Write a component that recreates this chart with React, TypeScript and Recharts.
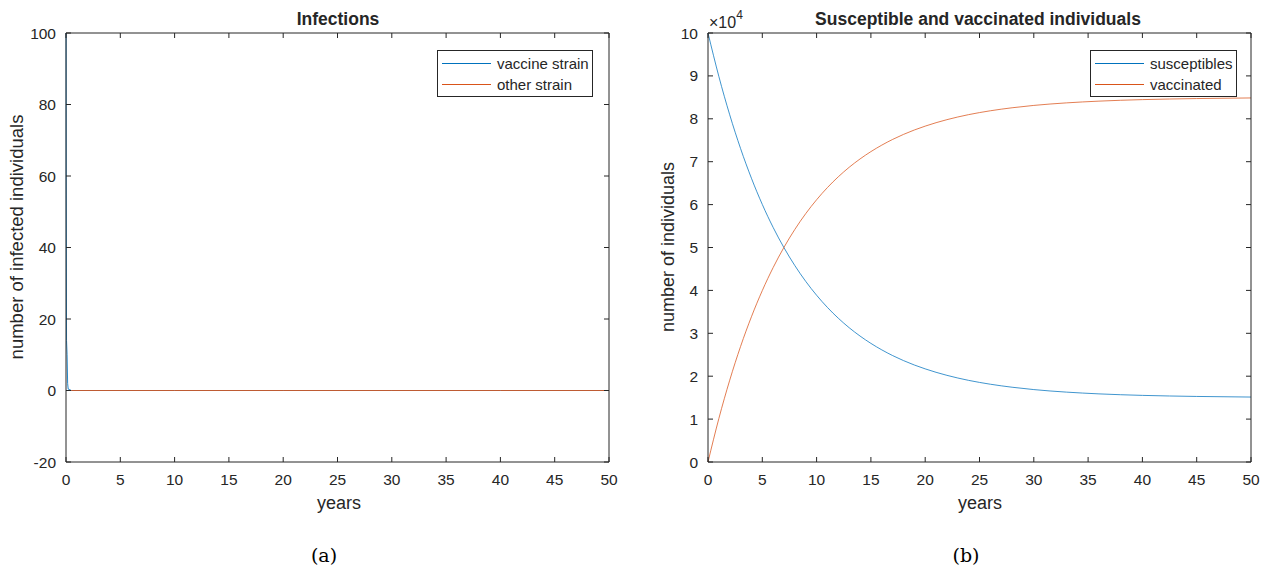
import React from 'react';
import { LineChart, Line, XAxis, YAxis } from 'recharts';

// infections panel (a)
const infYears = [0, 0.02, 0.05, 0.1, 0.15, 0.2, 0.5, 10, 20, 30, 40, 50];
const vaccineStrain = [150, 60, 14, 10, 2, 0.4, 0, 0, 0, 0, 0, 0];
const otherStrain = [0, 0, 0, 0, 0, 0, 0, 0, 0, 0, 0, 0];

// susceptible / vaccinated panel (b)
const popYears = [0, 1, 2, 3, 4, 5, 6, 7, 8, 9, 10, 11, 12, 13, 14, 15, 16, 17, 18, 19, 20, 22, 24, 26, 28, 30, 33, 36, 40, 45, 50];
const susceptibles = [
  100000, 89860, 80930, 73060, 66140, 60040, 54670, 49940, 45770, 42100, 38870, 36020, 33510, 31300, 29360,
  27650, 26140, 24810, 23640, 22610, 21710, 20200, 19030, 18130, 17430, 16880, 16290, 15880, 15530, 15280, 15140,
];
const vaccinated = [
  0, 10140, 19070, 26940, 33860, 39960, 45330, 50060, 54230, 57900, 61130, 63980, 66490, 68700, 70640,
  72350, 73860, 75190, 76360, 77390, 78290, 79800, 80970, 81870, 82570, 83120, 83710, 84120, 84470, 84720, 84860,
];

const xTicks = [0, 5, 10, 15, 20, 25, 30, 35, 40, 45, 50];
const infTicks = [-20, 0, 20, 40, 60, 80, 100];
const popTicks = [0, 10000, 20000, 30000, 40000, 50000, 60000, 70000, 80000, 90000, 100000];

const infData = infYears.map((t, i) => ({ t, vaccine: vaccineStrain[i], other: otherStrain[i] }));
const popData = popYears.map((t, i) => ({ t, s: susceptibles[i], v: vaccinated[i] }));

const BLUE = '#0072BD';
const ORANGE = '#D95319';
const AX = '#262626';
const FONT = '"Liberation Sans", Arial, sans-serif';

const tickStyle = { fill: AX, fontSize: 15.5, fontFamily: FONT };
const noLabel = () => '';

const LegendBox = ({ items, width, left }: { items: { name: string; color: string }[]; width: number; left: number }) => (
  <div
    style={{
      position: 'absolute',
      left,
      top: 50,
      width,
      height: 47,
      border: `1px solid ${AX}`,
      background: '#fff',
      boxSizing: 'border-box',
      padding: '2px 0 0 4px',
      fontFamily: FONT,
      fontSize: 15,
      color: AX,
      whiteSpace: 'nowrap',
    }}
  >
    {items.map((it) => (
      <div key={it.name} style={{ display: 'flex', alignItems: 'center', height: 21 }}>
        <div style={{ width: 49, height: 0, borderTop: `1px solid ${it.color}`, marginRight: 6 }} />
        <span>{it.name}</span>
      </div>
    ))}
  </div>
);

const boxAxes = (yDomain: number[], yTicks: number[], fmt?: (v: number) => string) => [
  <XAxis
    key="xb"
    xAxisId="b"
    dataKey="t"
    type="number"
    domain={[0, 50]}
    ticks={xTicks}
    height={30}
    tickSize={-5}
    tickMargin={17}
    tick={tickStyle}
    stroke={AX}
    interval={0}
  />,
  <XAxis
    key="xt"
    xAxisId="t"
    dataKey="t"
    type="number"
    orientation="top"
    domain={[0, 50]}
    ticks={xTicks}
    height={5}
    tickSize={-5}
    tickFormatter={noLabel}
    stroke={AX}
    interval={0}
  />,
  <YAxis
    key="yl"
    yAxisId="l"
    type="number"
    domain={yDomain}
    ticks={yTicks}
    width={60}
    tickSize={-5}
    tickMargin={15}
    tick={tickStyle}
    tickFormatter={fmt}
    stroke={AX}
    allowDataOverflow
    interval={0}
  />,
  <YAxis
    key="yr"
    yAxisId="r"
    orientation="right"
    type="number"
    domain={yDomain}
    ticks={yTicks}
    width={5}
    tickSize={-5}
    tickFormatter={noLabel}
    stroke={AX}
    allowDataOverflow
    interval={0}
  />,
];

export default function App() {
  return (
    <div style={{ position: 'absolute', left: 0, top: 0, width: 1274, height: 569, background: '#fff', fontFamily: FONT }}>
      <div style={{ position: 'absolute', left: 0, top: 0 }}>
        <LineChart width={637} height={569} data={infData} margin={{ top: 28, right: 23, left: 6, bottom: 77 }}>
          {boxAxes([-20, 100], infTicks)}
          <Line xAxisId="b" yAxisId="l" dataKey="vaccine" name="vaccine strain" type="linear" stroke={BLUE} strokeOpacity={0.85} strokeWidth={1} dot={false} isAnimationActive={false} />
          <Line xAxisId="b" yAxisId="l" dataKey="other" name="other strain" type="linear" stroke={ORANGE} strokeOpacity={0.85} strokeWidth={1} dot={false} isAnimationActive={false} />
        </LineChart>
      </div>
      <div style={{ position: 'absolute', left: 637, top: 0 }}>
        <LineChart width={637} height={569} data={popData} margin={{ top: 28, right: 18, left: 11, bottom: 77 }}>
          {boxAxes([0, 100000], popTicks, (v: number) => String(v / 10000))}
          <Line xAxisId="b" yAxisId="l" dataKey="s" name="susceptibles" type="monotone" stroke={BLUE} strokeOpacity={0.75} strokeWidth={1} dot={false} isAnimationActive={false} />
          <Line xAxisId="b" yAxisId="l" dataKey="v" name="vaccinated" type="monotone" stroke={ORANGE} strokeOpacity={0.75} strokeWidth={1} dot={false} isAnimationActive={false} />
        </LineChart>
      </div>
      <LegendBox left={437} width={156} items={[{ name: 'vaccine strain', color: BLUE }, { name: 'other strain', color: ORANGE }]} />
      <LegendBox left={1090} width={147} items={[{ name: 'susceptibles', color: BLUE }, { name: 'vaccinated', color: ORANGE }]} />
      <svg width={1274} height={569} style={{ position: 'absolute', left: 0, top: 0, pointerEvents: 'none' }}>
        <g fill={AX} fontFamily={FONT}>
          <text x={338} y={25} textAnchor="middle" fontSize={17.5} fontWeight="bold">Infections</text>
          <text x={978} y={25} textAnchor="middle" fontSize={17.5} fontWeight="bold">Susceptible and vaccinated individuals</text>
          <text x={339} y={509} textAnchor="middle" fontSize={18}>years</text>
          <text x={980} y={509} textAnchor="middle" fontSize={18}>years</text>
          <text transform="translate(23,237) rotate(-90)" textAnchor="middle" fontSize={18.5}>number of infected individuals</text>
          <text transform="translate(674,247) rotate(-90)" textAnchor="middle" fontSize={18}>number of individuals</text>
          <text x={709} y={28} fontSize={16}>
            ×10<tspan dy={-9} fontSize={12}>4</tspan>
          </text>
        </g>
        <g fill="#000" fontFamily='"DejaVu Serif", "Liberation Serif", serif' fontSize={19}>
          <text x={324} y={562} textAnchor="middle">(a)</text>
          <text x={966} y={562} textAnchor="middle">(b)</text>
        </g>
      </svg>
    </div>
  );
}
